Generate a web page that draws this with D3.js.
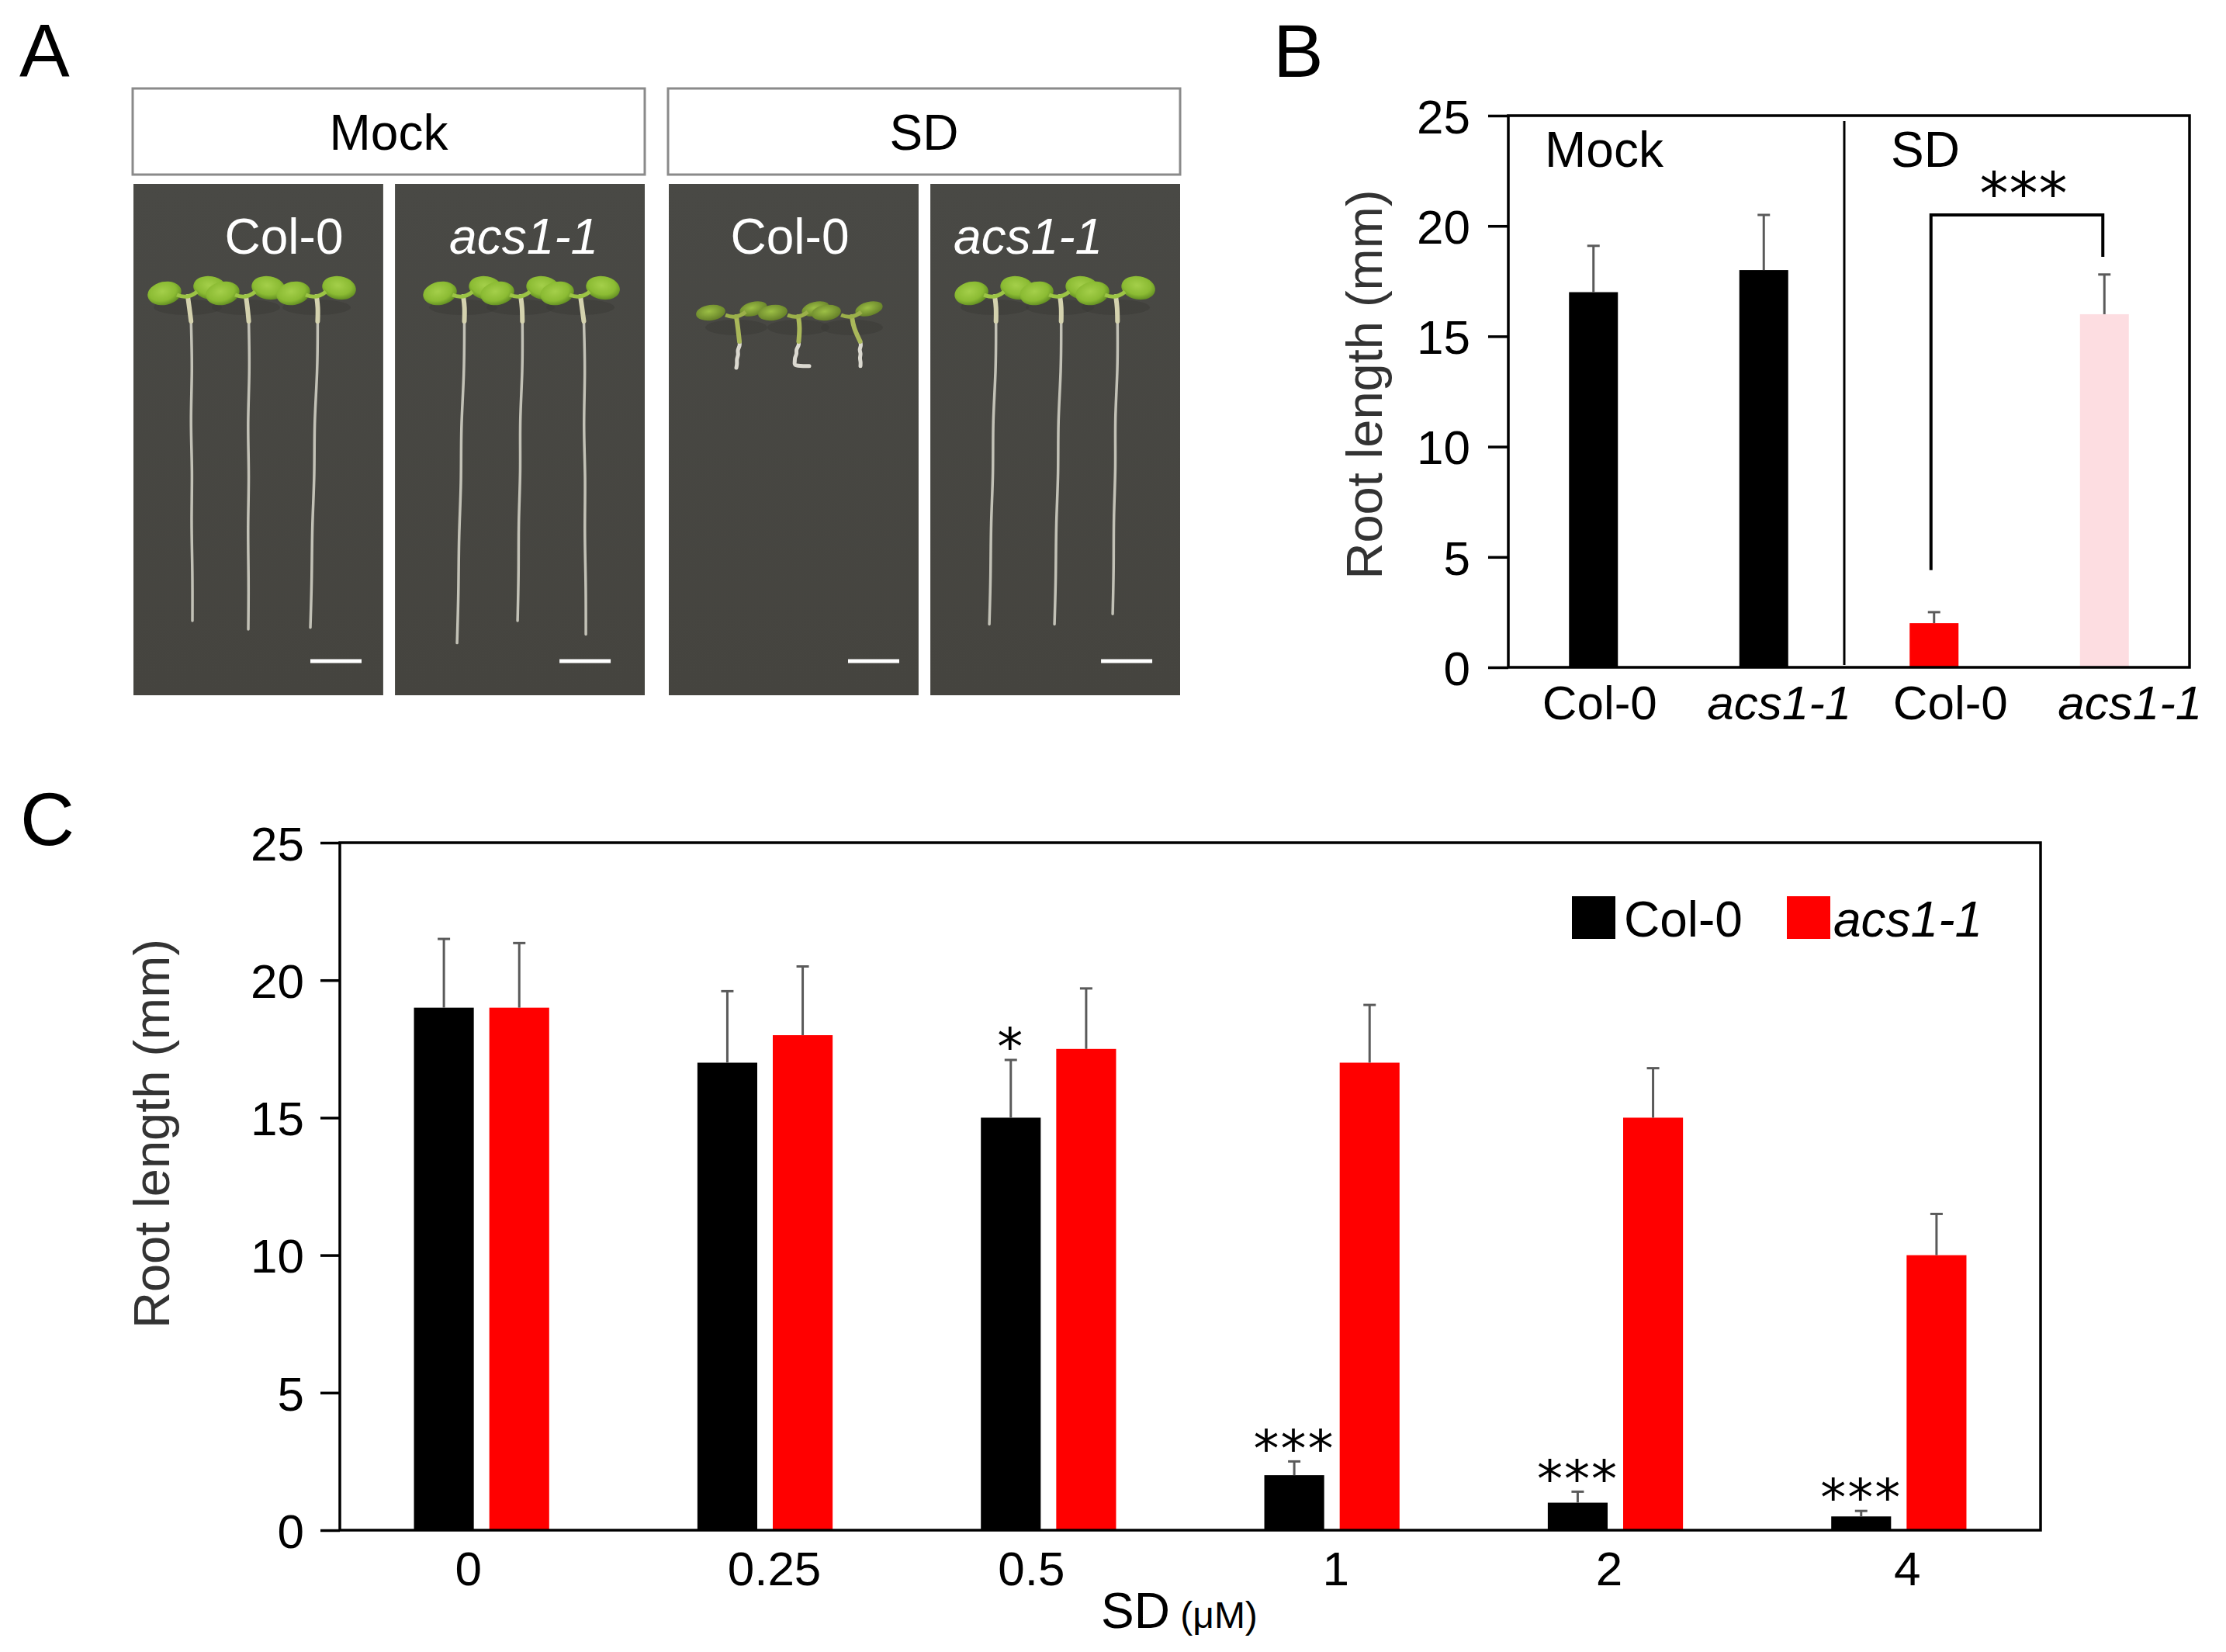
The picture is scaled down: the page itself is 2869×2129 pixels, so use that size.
<!DOCTYPE html>
<html><head><meta charset="utf-8">
<script src="https://cdn.jsdelivr.net/npm/d3@7"></script>
<style>html,body{margin:0;padding:0;background:#fff;} svg{display:block;}</style>
</head><body><svg id="fig" width="2869" height="2129"></svg>
<script>
// ================= DATA =================
// Panel A (photographs of seedlings)
const aTreatments = ["Mock", "SD"];
const aGenotypes = ["Col-0", "acs1-1", "Col-0", "acs1-1"];
const aSeedlingLengthsMM = [[19.0, 19.5, 19.4], [20.3, 19.0, 19.8], [3.0, 2.9, 2.9], [19.2, 19.2, 18.6]];
const aScaleBarMM = 3;

// Panel B
const bCategories = ["Col-0", "acs1-1", "Col-0", "acs1-1"];
const bGroups = ["Mock", "SD"];
const bValues = [17, 18, 2, 16];
const bErrors = [2.1, 2.5, 0.5, 1.8];
const bYTicks = [0, 5, 10, 15, 20, 25];
const bSigLabel = "***";
const bSigFrom = 2, bSigTo = 3;
const bSigLevels = [4.4, 20.5, 18.6]; // left end, top, right end (mm)

// Panel C
const cDoses = ["0", "0.25", "0.5", "1", "2", "4"];
const cSeries = ["Col-0", "acs1-1"];
const cCol0 = [19, 17, 15, 2, 1, 0.5];
const cCol0Err = [2.5, 2.6, 2.1, 0.5, 0.4, 0.2];
const cAcs = [19, 18, 17.5, 17, 15, 10];
const cAcsErr = [2.35, 2.5, 2.2, 2.1, 1.8, 1.5];
const cCol0Sig = ["", "", "*", "***", "***", "***"];
const cYTicks = [0, 5, 10, 15, 20, 25];

// ================= STYLE / LAYOUT =================
const FONT = '"Liberation Sans", Arial, Helvetica, sans-serif';
const STAR_FONT = '"DejaVu Sans", sans-serif';
const bColors = ["#000000", "#000000", "#ff0000", "#fddde1"];
const cColors = {"Col-0": "#000000", "acs1-1": "#ff0000"};
const ERR_COLOR = "#5a5a5a";
const bLabelDx = [8, 20, 21, 33];       // label nudges as in the original figure
const cLabelDx = [-17, 12, -22, 5, -8, 11];
const svg = d3.select("#fig").style("font-family", FONT);

// panel letters
[["A", 25, 98], ["B", 1641, 99], ["C", 26, 1089]].forEach(([t, x, y]) => {
  svg.append("text").attr("x", x).attr("y", y).attr("font-size", 97).attr("fill", "#000").text(t);
});

// ================= PANEL A =================
const A = {left: 171, right: 1521, boxTop: 114, boxBottom: 225, photoTop: 237, photoBottom: 896};
const treatBand = d3.scaleBand(aTreatments, [A.left, A.right]).paddingInner(0.0435);
const photoBand = d3.scaleBand([0, 1], [1, treatBand.bandwidth()]).paddingInner(0.045);
const mm = d3.scaleLinear([0, 1], [0, 22]);

const defs = svg.append("defs");
const lg = defs.append("radialGradient").attr("id", "leaf").attr("cx", "45%").attr("cy", "40%").attr("r", "62%");
lg.append("stop").attr("offset", "0%").attr("stop-color", "#a4cf4a");
lg.append("stop").attr("offset", "65%").attr("stop-color", "#8bbb33");
lg.append("stop").attr("offset", "100%").attr("stop-color", "#5f8a22");
const lgD = defs.append("radialGradient").attr("id", "leafD").attr("cx", "45%").attr("cy", "40%").attr("r", "62%");
lgD.append("stop").attr("offset", "0%").attr("stop-color", "#9cbf45");
lgD.append("stop").attr("offset", "100%").attr("stop-color", "#647f28");
const bg = defs.append("linearGradient").attr("id", "photoBg").attr("x1", 0).attr("y1", 0).attr("x2", 0).attr("y2", 1);
bg.append("stop").attr("offset", "0%").attr("stop-color", "#494945");
bg.append("stop").attr("offset", "100%").attr("stop-color", "#45443f");

aTreatments.forEach(t => {
  svg.append("rect").attr("x", treatBand(t)).attr("y", A.boxTop)
    .attr("width", treatBand.bandwidth()).attr("height", A.boxBottom - A.boxTop)
    .attr("fill", "#fff").attr("stroke", "#8a8a8a").attr("stroke-width", 3);
  svg.append("text").attr("x", treatBand(t) + treatBand.bandwidth() / 2).attr("y", 193)
    .attr("text-anchor", "middle").attr("font-size", 64).attr("fill", "#000").text(t);
});

// per-photo decorative layout (relative to the photo's left edge)
const aLayout = [
  {nodeY: 382, nodes: [70, 145, 236], tips: [76, 148, 228], labelX: 194, barX: 228, short: false},
  {nodeY: 382, nodes: [88, 162, 239], tips: [80, 158, 246], labelX: 166, barX: 212, short: false},
  {nodeY: 408, nodes: [87, 167, 236], tips: [87, 161, 247], labelX: 156, barX: 231, short: true, hooks: [0, 20, 0]},
  {nodeY: 382, nodes: [83, 167, 239], tips: [76, 160, 235], labelX: 126, barX: 220, short: false}
];
const wiggle = [0, 1.5, -1.5, 1, -1, 0.5, 0];
const rootLine = d3.line().curve(d3.curveBasis);

aGenotypes.forEach((gname, i) => {
  const t = aTreatments[Math.floor(i / 2)];
  const px = treatBand(t) + photoBand(i % 2);
  const pw = photoBand.bandwidth();
  const L = aLayout[i];
  const g = svg.append("g").attr("transform", `translate(${px},0)`);
  g.append("rect").attr("x", 0).attr("y", A.photoTop).attr("width", pw)
    .attr("height", A.photoBottom - A.photoTop).attr("fill", "url(#photoBg)");
  g.append("text").attr("x", L.labelX).attr("y", 327).attr("text-anchor", "middle")
    .attr("font-size", 64).attr("fill", "#fff")
    .attr("font-style", gname === "acs1-1" ? "italic" : "normal").text(gname);
  aSeedlingLengthsMM[i].forEach((len, k) => {
    const nx = L.nodes[k], ny = L.nodeY;
    const tx = L.tips[k], ty = ny + mm(len);
    const hypoY = ny + (L.short ? 32 : 32);
    const hx = nx + (tx - nx) * (L.short ? 0.6 : 0.2) + (L.short ? 4 : 3);
    // shadow under the leaves
    g.append("ellipse").attr("cx", nx).attr("cy", ny + 14).attr("rx", L.short ? 40 : 44).attr("ry", 10)
      .attr("fill", "#3a3a36").attr("opacity", 0.5);
    // root
    const pts = [[hx, hypoY]];
    const n = wiggle.length;
    for (let s = 1; s < n; s++) {
      const f = s / (n - 1);
      pts.push([hx + (tx - hx) * f + wiggle[s], hypoY + (ty - hypoY) * f]);
    }
    if (L.hooks && L.hooks[k]) pts.push([tx + L.hooks[k], ty]);
    g.append("path").attr("d", rootLine(pts)).attr("fill", "none")
      .attr("stroke", L.short ? "#e4e2d8" : "#c9c8bd").attr("stroke-width", L.short ? 5 : 3.5)
      .attr("stroke-linecap", "round").attr("opacity", 0.95);
    // hypocotyl
    g.append("path").attr("d", d3.line().curve(d3.curveBasis)([[nx, ny], [nx + 2, ny + 14], [hx, hypoY]]))
      .attr("fill", "none").attr("stroke", L.short ? "#aab85a" : "#d4d2ae")
      .attr("stroke-width", 6).attr("stroke-linecap", "round");
    // cotyledons
    const leaves = L.short
      ? [[-33, -5, 19, 10, -8], [22, -10, 18, 9, -14]]
      : [[-30, -4, 22, 15, -12], [29, -11, 22, 15, 10]];
    leaves.forEach(([dx, dy, rx, ry, rot]) => {
      g.append("ellipse").attr("cx", 0).attr("cy", 0).attr("rx", rx).attr("ry", ry)
        .attr("transform", `translate(${nx + dx},${ny + dy}) rotate(${rot})`)
        .attr("fill", L.short ? "url(#leafD)" : "url(#leaf)");
    });
    // petiole junction
    g.append("path").attr("d", `M${nx - 14},${ny - 2}Q${nx},${ny + 4} ${nx + 12},${ny - 6}`)
      .attr("fill", "none").attr("stroke", L.short ? "#9bb04a" : "#9cc445").attr("stroke-width", 5);
  });
  // scale bar
  g.append("line").attr("x1", L.barX).attr("x2", L.barX + mm(aScaleBarMM))
    .attr("y1", 852).attr("y2", 852).attr("stroke", "#fff").attr("stroke-width", 5);
});

// ================= helpers =================
function styleAxis(g, fs) {
  g.attr("font-family", FONT).attr("font-size", fs);
  g.select(".domain").remove();
  g.selectAll(".tick line").attr("stroke", "#000").attr("stroke-width", 3.5);
  g.selectAll(".tick text").attr("fill", "#000");
}
function errorBar(g, cx, y0, y1, cap) {
  g.append("line").attr("x1", cx).attr("x2", cx).attr("y1", y0).attr("y2", y1)
    .attr("stroke", ERR_COLOR).attr("stroke-width", 3);
  g.append("line").attr("x1", cx - cap).attr("x2", cx + cap).attr("y1", y1).attr("y2", y1)
    .attr("stroke", ERR_COLOR).attr("stroke-width", 3);
}

// ================= PANEL B =================
const B = {left: 1944, right: 2822, top: 149, bottom: 860};
const yB = d3.scaleLinear([0, 25], [B.bottom, B.top]);
const xB = d3.scaleBand(d3.range(bValues.length), [B.left, B.right]).paddingInner(0.713).paddingOuter(0.3565);
const gB = svg.append("g");
const cxB = i => xB(i) + xB.bandwidth() / 2;

gB.selectAll("rect.bar").data(bValues).join("rect").attr("class", "bar")
  .attr("x", (d, i) => xB(i)).attr("y", d => yB(d))
  .attr("width", xB.bandwidth()).attr("height", d => yB(0) - yB(d))
  .attr("fill", (d, i) => bColors[i]);
bValues.forEach((v, i) => errorBar(gB, cxB(i), yB(v), yB(v + bErrors[i]), 8));

gB.append("rect").attr("x", B.left).attr("y", B.top).attr("width", B.right - B.left)
  .attr("height", B.bottom - B.top).attr("fill", "none").attr("stroke", "#000").attr("stroke-width", 3.5);

const axB = gB.append("g").attr("transform", `translate(${B.left},0)`)
  .call(d3.axisLeft(yB).tickValues(bYTicks).tickSize(26).tickSizeOuter(0).tickPadding(23));
styleAxis(axB, 62);
axB.selectAll(".tick text").attr("dy", "0.36em");

const axBx = gB.append("g").attr("transform", `translate(0,${B.bottom})`)
  .call(d3.axisBottom(xB).tickFormat(i => bCategories[i]).tickSize(0).tickPadding(23));
styleAxis(axBx, 62);
axBx.selectAll(".tick text").attr("dx", i => bLabelDx[i])
  .attr("font-style", i => bCategories[i] === "acs1-1" ? "italic" : "normal");

const divX = (cxB(1) + cxB(2)) / 2 - 6;
gB.append("line").attr("x1", divX).attr("x2", divX).attr("y1", B.top + 7).attr("y2", B.bottom - 3)
  .attr("stroke", "#000").attr("stroke-width", 3);
gB.append("text").attr("x", B.left + 47).attr("y", 215).attr("font-size", 64).text(bGroups[0]);
gB.append("text").attr("x", divX + 60).attr("y", 215).attr("font-size", 64).text(bGroups[1]);

gB.append("path")
  .attr("d", `M${cxB(bSigFrom) - 4},${yB(bSigLevels[0])}V${yB(bSigLevels[1])}H${cxB(bSigTo) - 2}V${yB(bSigLevels[2])}`)
  .attr("fill", "none").attr("stroke", "#000").attr("stroke-width", 4);
gB.append("text").attr("x", (cxB(bSigFrom) + cxB(bSigTo)) / 2 + 6).attr("y", yB(bSigLevels[1]) - 2)
  .attr("text-anchor", "middle").attr("font-family", STAR_FONT).attr("font-size", 74)
  .attr("letter-spacing", 1).attr("fill", "#000").text(bSigLabel);

gB.append("text").attr("transform", `translate(1781,${(B.top + B.bottom) / 2 - 9}) rotate(-90)`)
  .attr("text-anchor", "middle").attr("font-size", 65).attr("fill", "#333").text("Root length (mm)");

// ================= PANEL C =================
const C = {left: 438, right: 2630, top: 1086, bottom: 1972};
const yC = d3.scaleLinear([0, 25], [C.bottom, C.top]);
const x0 = d3.scaleBand(cDoses, [C.left, C.right]).paddingInner(0.523).paddingOuter(0.2615);
const x1 = d3.scaleBand(cSeries, [0, x0.bandwidth()]).paddingInner(0.206);
const gC = svg.append("g");

const cRows = cDoses.map((d, i) => ({dose: d, vals: [
  {s: "Col-0", v: cCol0[i], e: cCol0Err[i], sig: cCol0Sig[i]},
  {s: "acs1-1", v: cAcs[i], e: cAcsErr[i], sig: ""}
]}));

cRows.forEach(row => {
  row.vals.forEach(b => {
    const bx = x0(row.dose) + x1(b.s);
    const cx = bx + x1.bandwidth() / 2;
    gC.append("rect").attr("x", bx).attr("y", yC(b.v)).attr("width", x1.bandwidth())
      .attr("height", yC(0) - yC(b.v)).attr("fill", cColors[b.s]);
    errorBar(gC, cx, yC(b.v), yC(b.v + b.e), 8);
    if (b.sig) {
      gC.append("text").attr("x", cx).attr("y", yC(b.v + b.e) - 32).attr("dy", "0.58em")
        .attr("text-anchor", "middle").attr("font-family", STAR_FONT).attr("font-size", 66)
        .attr("letter-spacing", 2).attr("fill", "#000").text(b.sig);
    }
  });
});

gC.append("rect").attr("x", C.left).attr("y", C.top).attr("width", C.right - C.left)
  .attr("height", C.bottom - C.top).attr("fill", "none").attr("stroke", "#000").attr("stroke-width", 3.5);

const axC = gC.append("g").attr("transform", `translate(${C.left},0)`)
  .call(d3.axisLeft(yC).tickValues(cYTicks).tickSize(25).tickSizeOuter(0).tickPadding(21));
styleAxis(axC, 62);
axC.selectAll(".tick text").attr("dy", "0.36em");

const axCx = gC.append("g").attr("transform", `translate(0,${C.bottom})`)
  .call(d3.axisBottom(x0).tickSize(0).tickPadding(27));
styleAxis(axCx, 62);
axCx.selectAll(".tick text").attr("dx", (d, i) => cLabelDx[i]);

const xt = gC.append("text").attr("x", 1419).attr("y", 2098).attr("fill", "#000");
xt.append("tspan").attr("font-size", 64).text("SD");
xt.append("tspan").attr("font-size", 48).text(" (μM)");

gC.append("text").attr("transform", `translate(218,1461) rotate(-90)`)
  .attr("text-anchor", "middle").attr("font-size", 65).attr("fill", "#333").text("Root length (mm)");

// legend
const legX = [2026, 2303];
cSeries.forEach((s, i) => {
  gC.append("rect").attr("x", legX[i]).attr("y", 1155).attr("width", 56).attr("height", 55).attr("fill", cColors[s]);
  gC.append("text").attr("x", legX[i] + (i === 0 ? 67 : 60)).attr("y", 1207).attr("font-size", 64)
    .attr("font-style", s === "acs1-1" ? "italic" : "normal").attr("fill", "#000").text(s);
});
</script>
</body></html>
